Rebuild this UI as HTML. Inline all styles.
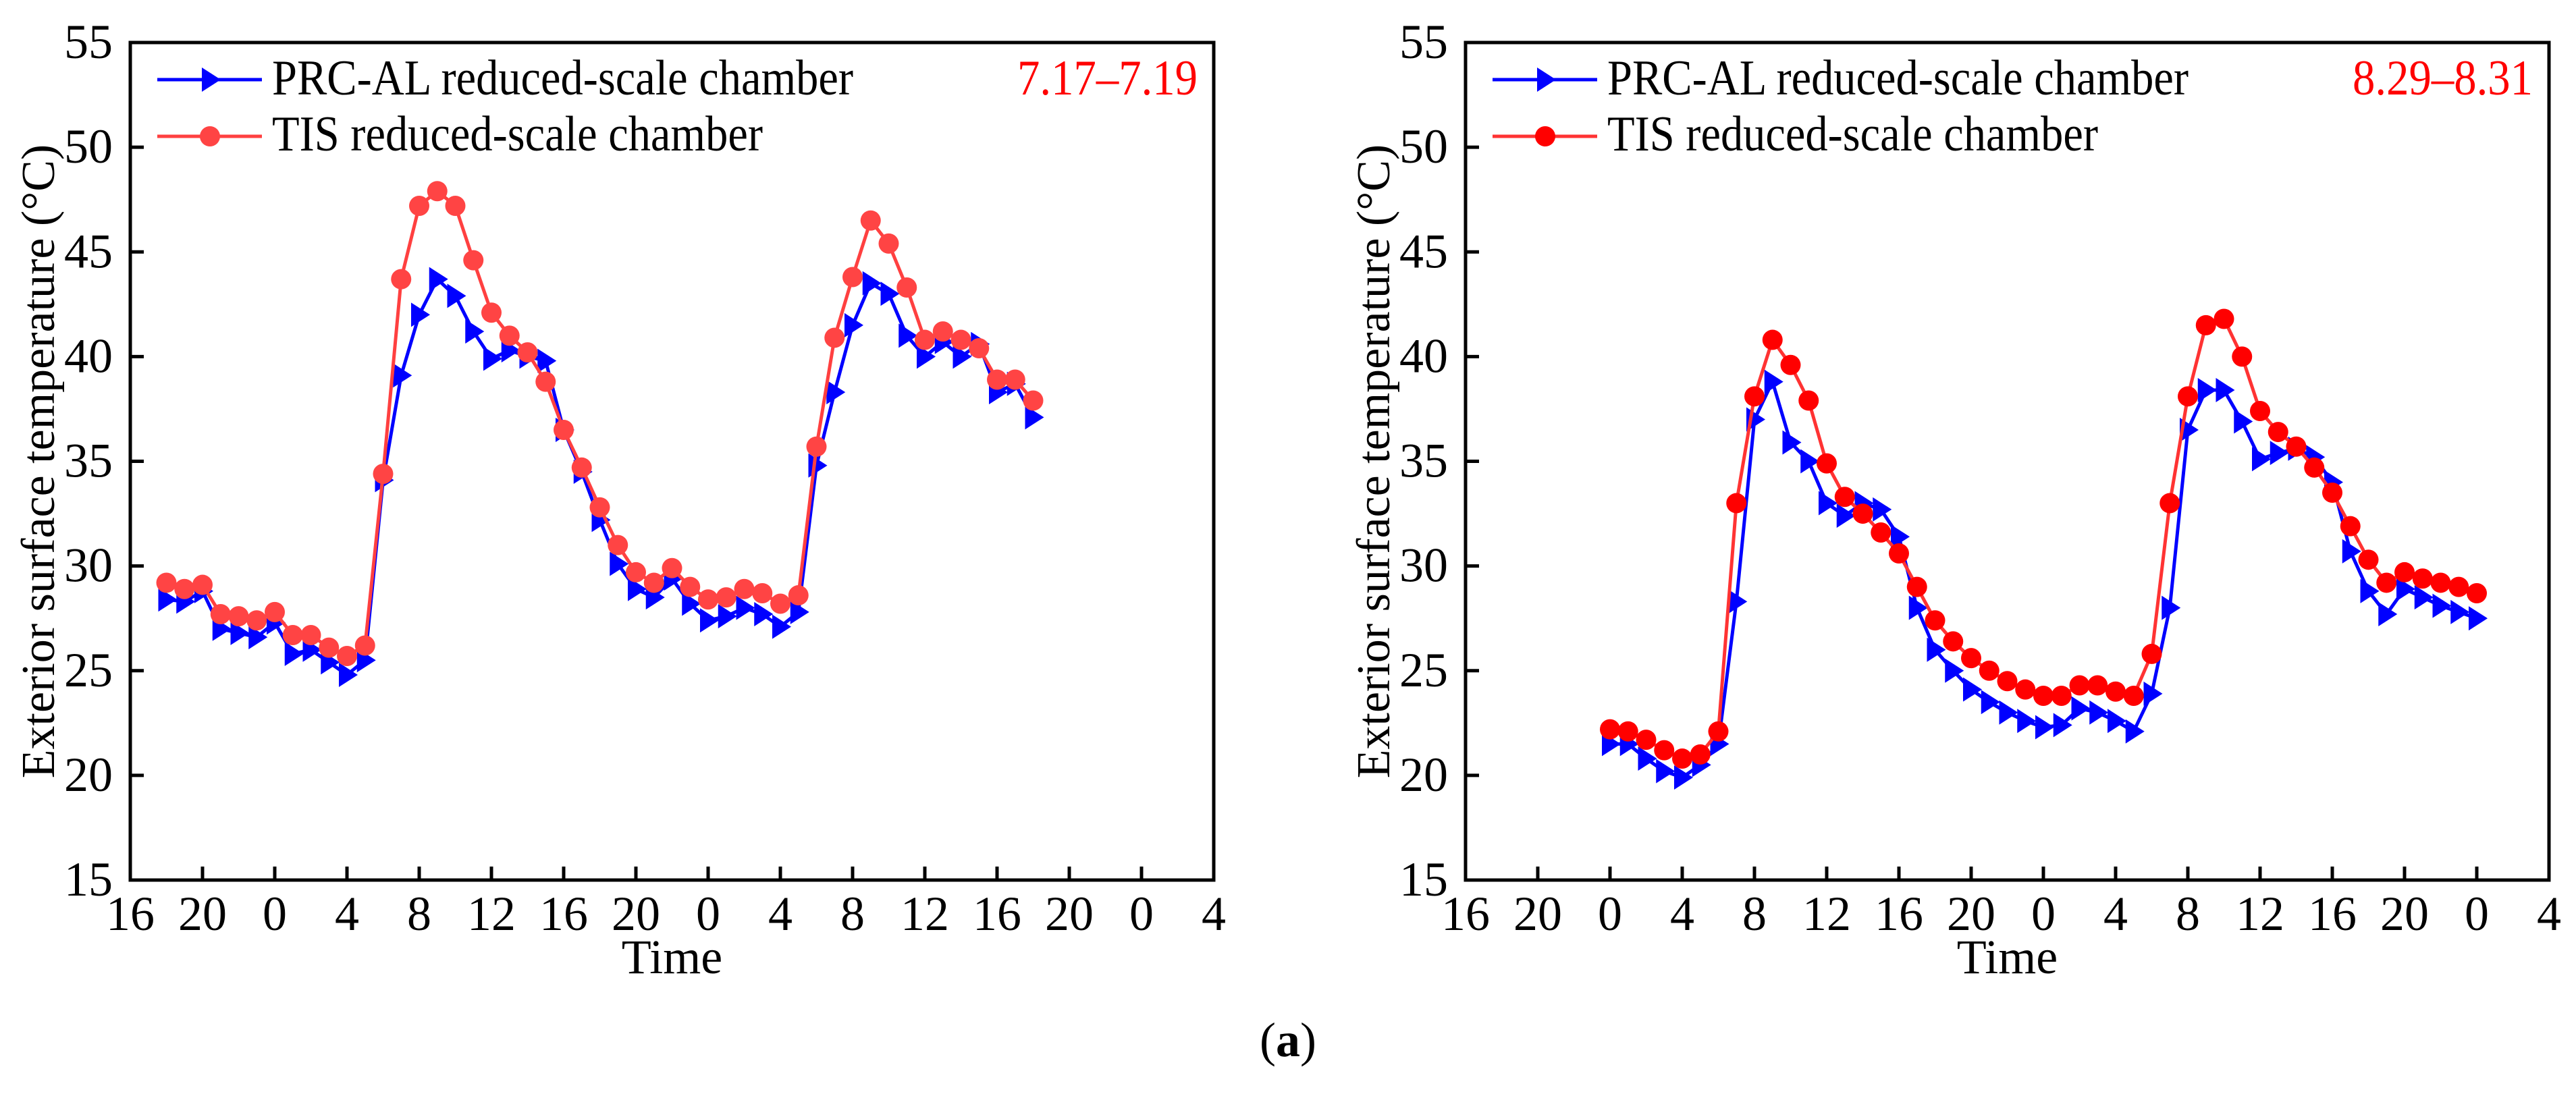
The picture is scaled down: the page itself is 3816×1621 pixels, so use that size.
<!DOCTYPE html>
<html><head><meta charset="utf-8"><style>
html,body{margin:0;padding:0;background:#fff;}
svg{display:block;font-family:"Liberation Serif",serif;}
</style></head><body>
<svg id="svg" width="3816" height="1621" viewBox="0 0 3816 1621"></svg>
<script>
const xTickLabels = ["16","20","0","4","8","12","16","20","0","4","8","12","16","20","0","4"];
const yTickLabels = ["15","20","25","30","35","40","45","50","55"];
// panel 1: hours from 18:00 (hour 18) to hour 66
const p1Start = 18;
const p1PRC = [28.4,28.3,28.8,27.0,26.8,26.6,27.3,25.8,26.0,25.4,24.8,25.5,34.1,39.1,42.0,43.7,42.9,41.2,39.9,40.3,40.0,39.8,36.5,34.5,32.2,30.1,28.9,28.5,29.4,28.2,27.4,27.6,28.0,27.7,27.1,27.8,34.8,38.3,41.5,43.5,43.0,41.0,40.0,40.7,40.0,40.6,38.3,38.7,37.1];
const p1TIS = [29.2,28.9,29.1,27.7,27.6,27.4,27.8,26.7,26.7,26.1,25.7,26.2,34.4,43.7,47.2,47.9,47.2,44.6,42.1,41.0,40.2,38.8,36.5,34.7,32.8,31.0,29.7,29.2,29.9,29.0,28.4,28.5,28.9,28.7,28.2,28.6,35.7,40.9,43.8,46.5,45.4,43.3,40.8,41.2,40.8,40.4,38.9,38.9,37.9];
// panel 2: hours from 0:00 (hour 24) to hour 72
const p2Start = 24;
const p2PRC = [21.5,21.5,20.8,20.2,19.9,20.5,21.5,28.3,37.0,38.8,35.9,35.0,33.0,32.4,33.0,32.7,31.4,28.0,26.0,25.0,24.1,23.5,23.0,22.6,22.3,22.4,23.2,23.0,22.6,22.1,23.9,28.0,36.5,38.4,38.4,36.9,35.1,35.4,35.6,35.2,34.0,30.7,28.8,27.7,28.9,28.5,28.1,27.8,27.5];
const p2TIS = [22.2,22.1,21.7,21.2,20.8,21.0,22.1,33.0,38.1,40.8,39.6,37.9,34.9,33.3,32.5,31.6,30.6,29.0,27.4,26.4,25.6,25.0,24.5,24.1,23.8,23.8,24.3,24.3,24.0,23.8,25.8,33.0,38.1,41.5,41.8,40.0,37.4,36.4,35.7,34.7,33.5,31.9,30.3,29.2,29.7,29.4,29.2,29.0,28.7];

const NS="http://www.w3.org/2000/svg";
const svg=document.getElementById('svg');
function mk(tag,attrs,parent){const e=document.createElementNS(NS,tag);for(const k in attrs)e.setAttribute(k,attrs[k]);(parent||svg).appendChild(e);return e;}

function panel(cfg){
  const g=mk('g',{});
  
  
  const L=cfg.left,R=cfg.left+1605,T=63,B=1304;
  const xs=h=>L+(h-16)/60*(R-L);
  const ys=v=>B-(v-15)/40*(B-T);
  const fr=mk('rect',{x:L,y:T,width:R-L,height:B-T,fill:'none',stroke:'#000','stroke-width':5},g);
  
  
  xTickLabels.forEach((lab,i)=>{
    const x=xs(16+i*4);
    if(i>0&&i<xTickLabels.length-1){const t=mk('line',{x1:x,x2:x,y1:B,y2:B-20,stroke:'#000','stroke-width':5},g);
      
      }
    const tx=mk('text',{x:x,y:1378,'font-size':72,'text-anchor':'middle'},g);tx.textContent=lab;
    
    
  });
  yTickLabels.forEach((lab,i)=>{
    const v=15+i*5,y=ys(v);
    if(i>0&&i<yTickLabels.length-1){const t=mk('line',{x1:L,x2:L+20,y1:y,y2:y,stroke:'#000','stroke-width':5},g);
      
      }
    const tx=mk('text',{x:L-26,y:y+23,'font-size':72,'text-anchor':'end'},g);tx.textContent=lab;
    
    
  });
  const xt=mk('text',{x:(L+R)/2,y:1442,'font-size':72,'text-anchor':'middle'},g);xt.textContent='Time';
  
  
  const yt=mk('text',{x:0,y:0,'font-size':70,'text-anchor':'middle','xml:space':'preserve',transform:`translate(${cfg.ytx},${(T+B)/2}) rotate(-90)`},g);yt.textContent=cfg.ytitle;
  
  
  const tri=(x,y)=>`${x-12},${y-18} ${x-12},${y+18} ${x+16},${y}`;
  const blueLine=cfg.prc.map((v,i)=>xs(cfg.start+i)+','+ys(v)).join(' ');
  const bl=mk('polyline',{points:blueLine,fill:'none',stroke:'#0000ff','stroke-width':5,'stroke-linejoin':'round'},g);
  
  
  cfg.prc.forEach((v,i)=>{const m=mk('polygon',{points:tri(xs(cfg.start+i),ys(v)),fill:'#0000ff'},g);
    
    });
  const redLine=cfg.tis.map((v,i)=>xs(cfg.start+i)+','+ys(v)).join(' ');
  const rl=mk('polyline',{points:redLine,fill:'none',stroke:cfg.redLine,'stroke-width':5,'stroke-linejoin':'round'},g);
  
  
  cfg.tis.forEach((v,i)=>{const m=mk('circle',{cx:xs(cfg.start+i),cy:ys(v),r:15,fill:cfg.redMark},g);
    
    });
  const lx=L+40;
  const l1=mk('g',{},g);
  
  
  mk('line',{x1:lx,x2:lx+155,y1:118,y2:118,stroke:'#0000ff','stroke-width':5},l1);
  mk('polygon',{points:tri(lx+78,118),fill:'#0000ff'},l1);
  const t1=mk('text',{x:lx+170,y:140,'font-size':74,textLength:cfg.w1,lengthAdjust:'spacingAndGlyphs'},l1);t1.textContent='PRC-AL reduced-scale chamber';
  const l2=mk('g',{},g);
  
  
  mk('line',{x1:lx,x2:lx+155,y1:202,y2:202,stroke:cfg.redLine,'stroke-width':5},l2);
  mk('circle',{cx:lx+78,cy:202,r:15,fill:cfg.redMark},l2);
  const t2=mk('text',{x:lx+170,y:223,'font-size':74,textLength:cfg.w2,lengthAdjust:'spacingAndGlyphs'},l2);t2.textContent='TIS reduced-scale chamber';
  const dl=mk('text',{x:R-24,y:140,'font-size':74,'text-anchor':'end',fill:'#ff0000',textLength:267,lengthAdjust:'spacingAndGlyphs'},g);dl.textContent=cfg.date;
  
  
}
panel({name:'chart-july',left:193,start:p1Start,prc:p1PRC,tis:p1TIS,date:'7.17–7.19',ytitle:'Exterior surface temperature (°C)',ytx:80,redLine:'#ff4040',redMark:'#ff4444',w1:861,w2:727});
panel({name:'chart-august',left:2171,start:p2Start,prc:p2PRC,tis:p2TIS,date:'8.29–8.31',ytitle:'Exterior surface temperature  (°C)',ytx:2058,redLine:'#ff3333',redMark:'#ff0000',w1:861,w2:727});
const cap=mk('text',{x:1908,y:1565,'font-size':72,'text-anchor':'middle'});


cap.innerHTML='(<tspan font-weight="bold">a</tspan>)';
</script>
</body></html>
